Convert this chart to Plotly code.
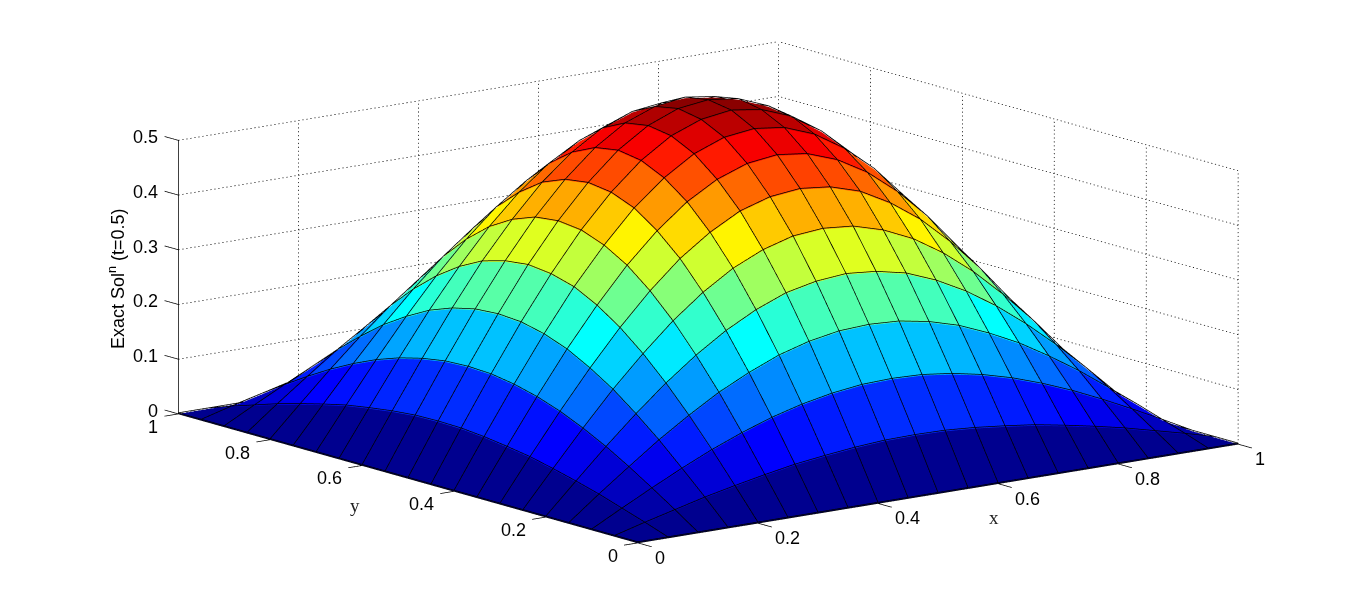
import plotly.graph_objects as go

x_vals = [0.00,0.05,0.10,0.15,0.20,0.25,0.30,0.35,0.40,0.45,0.50,0.55,0.60,0.65,0.70,0.75,0.80,0.85,0.90,0.95,1.00]
y_vals = [0.00,0.05,0.10,0.15,0.20,0.25,0.30,0.35,0.40,0.45,0.50,0.55,0.60,0.65,0.70,0.75,0.80,0.85,0.90,0.95,1.00]
z_rows = [
[0,0,0,0,0,0,0,0,0,0,0,0,0,0,0,0,0,0,0,0,0],
[0,.015,.029,.043,.055,.066,.076,.083,.089,.093,.094,.093,.089,.083,.076,.066,.055,.043,.029,.015,0],
[0,.029,.057,.084,.109,.131,.150,.165,.176,.183,.185,.183,.176,.165,.150,.131,.109,.084,.057,.029,0],
[0,.043,.084,.124,.160,.193,.220,.243,.259,.269,.272,.269,.259,.243,.220,.193,.160,.124,.084,.043,0],
[0,.055,.109,.160,.207,.249,.285,.314,.336,.348,.353,.348,.336,.314,.285,.249,.207,.160,.109,.055,0],
[0,.066,.131,.193,.249,.300,.343,.378,.403,.419,.424,.419,.403,.378,.343,.300,.249,.193,.131,.066,0],
[0,.076,.150,.220,.285,.343,.393,.432,.462,.479,.485,.479,.462,.432,.393,.343,.285,.220,.150,.076,0],
[0,.083,.165,.243,.314,.378,.432,.476,.508,.528,.535,.528,.508,.476,.432,.378,.314,.243,.165,.083,0],
[0,.089,.176,.259,.336,.403,.462,.508,.543,.564,.571,.564,.543,.508,.462,.403,.336,.259,.176,.089,0],
[0,.093,.183,.269,.348,.419,.479,.528,.564,.585,.593,.585,.564,.528,.479,.419,.348,.269,.183,.093,0],
[0,.094,.185,.272,.353,.424,.485,.535,.571,.593,.600,.593,.571,.535,.485,.424,.353,.272,.185,.094,0],
[0,.093,.183,.269,.348,.419,.479,.528,.564,.585,.593,.585,.564,.528,.479,.419,.348,.269,.183,.093,0],
[0,.089,.176,.259,.336,.403,.462,.508,.543,.564,.571,.564,.543,.508,.462,.403,.336,.259,.176,.089,0],
[0,.083,.165,.243,.314,.378,.432,.476,.508,.528,.535,.528,.508,.476,.432,.378,.314,.243,.165,.083,0],
[0,.076,.150,.220,.285,.343,.393,.432,.462,.479,.485,.479,.462,.432,.393,.343,.285,.220,.150,.076,0],
[0,.066,.131,.193,.249,.300,.343,.378,.403,.419,.424,.419,.403,.378,.343,.300,.249,.193,.131,.066,0],
[0,.055,.109,.160,.207,.249,.285,.314,.336,.348,.353,.348,.336,.314,.285,.249,.207,.160,.109,.055,0],
[0,.043,.084,.124,.160,.193,.220,.243,.259,.269,.272,.269,.259,.243,.220,.193,.160,.124,.084,.043,0],
[0,.029,.057,.084,.109,.131,.150,.165,.176,.183,.185,.183,.176,.165,.150,.131,.109,.084,.057,.029,0],
[0,.015,.029,.043,.055,.066,.076,.083,.089,.093,.094,.093,.089,.083,.076,.066,.055,.043,.029,.015,0],
[0,0,0,0,0,0,0,0,0,0,0,0,0,0,0,0,0,0,0,0,0],
]
x_ticks = [0, 0.2, 0.4, 0.6, 0.8, 1]
y_ticks = [0, 0.2, 0.4, 0.6, 0.8, 1]
z_ticks = [0, 0.1, 0.2, 0.3, 0.4, 0.5]
x_tick_labels = ["0", "0.2", "0.4", "0.6", "0.8", "1"]
y_tick_labels = ["0", "0.2", "0.4", "0.6", "0.8", "1"]
z_tick_labels = ["0", "0.1", "0.2", "0.3", "0.4", "0.5"]

JET = [[0, "#00008f"], [0.11, "#0000ff"], [0.365, "#00ffff"], [0.62, "#ffff00"], [0.873, "#ff0000"], [1, "#800000"]]
TICK_FONT = dict(family="Liberation Sans, Arial, sans-serif", size=18, color="#000000")
LABEL_FONT = dict(family="Liberation Serif, Times New Roman, serif", size=19, color="#222222")
LIFT = 0.002
PAGE_MARGIN = 8  # the browser's default body margin offsets the whole figure
nx, ny = len(x_vals), len(y_vals)

vx, vy, vz = [], [], []
for r in range(ny):
    for c in range(nx):
        vx.append(x_vals[c]); vy.append(y_vals[r]); vz.append(z_rows[r][c])
fi, fj, fk, cell = [], [], [], []
for r in range(ny - 1):
    for c in range(nx - 1):
        a = r * nx + c
        b, d, e = a + 1, a + nx, a + nx + 1
        fi += [a, a]; fj += [b, e]; fk += [e, d]
        cell += [z_rows[r][c]] * 2

fig = go.Figure()
fig.add_trace(go.Mesh3d(x=vx, y=vy, z=vz, i=fi, j=fj, k=fk, intensity=cell, intensitymode="cell",
                        colorscale=JET, cmin=0, cmax=0.600, showscale=False, flatshading=True,
                        lighting=dict(ambient=1, diffuse=0, specular=0, roughness=1, fresnel=0),
                        hoverinfo="skip"))

lx, ly, lz = [], [], []
for r in range(ny):
    lx += x_vals + [None]; ly += [y_vals[r]] * nx + [None]; lz += [v + LIFT for v in z_rows[r]] + [None]
for c in range(nx):
    lx += [x_vals[c]] * ny + [None]; ly += y_vals + [None]; lz += [z_rows[r][c] + LIFT for r in range(ny)] + [None]
fig.add_trace(go.Scatter3d(x=lx, y=ly, z=lz, mode="lines", line=dict(color="#000000", width=1.5), hoverinfo="skip"))

z_top = z_ticks[-1]
gx, gy, gz = [], [], []
def dotted(p0, p1, n):
    """Append a dotted run from p0 to p1 as n short dashes, since plotly's 3-D dash pattern is too coarse."""
    for m in range(n):
        for t in (m / n, (m + 0.3) / n):
            gx.append(p0[0] + (p1[0] - p0[0]) * t)
            gy.append(p0[1] + (p1[1] - p0[1]) * t)
            gz.append(p0[2] + (p1[2] - p0[2]) * t)
        gx.append(None); gy.append(None); gz.append(None)
for t in x_ticks[1:]:
    dotted((t, 1, 0), (t, 1, z_top), 70)
for t in y_ticks[:-1]:
    dotted((1, t, 0), (1, t, z_top), 70)
for t in z_ticks:
    dotted((0, 1, t), (1, 1, t), 150)
    dotted((1, 0, t), (1, 1, t), 125)
fig.add_trace(go.Scatter3d(x=gx, y=gy, z=gz, mode="lines", line=dict(color="#000000", width=1.5), hoverinfo="skip"))

ax, ay, az = [0, 1, None, 0, 0, None, 0, 0], [0, 0, None, 0, 1, None, 1, 1], [0, 0, None, 0, 0, None, 0, z_top]
for t in x_ticks:
    ax += [None, t, t]; ay += [None, 0, -0.03]; az += [None, 0, 0]
for t in y_ticks:
    ax += [None, 0, -0.023]; ay += [None, t, t]; az += [None, 0, 0]
for t in z_ticks:
    ax += [None, 0, 0]; ay += [None, 1, 1.03]; az += [None, t, t]
fig.add_trace(go.Scatter3d(x=ax, y=ay, z=az, mode="lines", line=dict(color="#000000", width=1.5), hoverinfo="skip"))

annos = []
for t, s in zip(x_ticks, x_tick_labels):
    annos.append(dict(x=t, y=0, z=0, text=s, showarrow=False, xanchor="left", yanchor="middle", xshift=15, yshift=-15, font=TICK_FONT))
for t, s in zip(y_ticks, y_tick_labels):
    annos.append(dict(x=0, y=t, z=0, text=s, showarrow=False, xanchor="right", yanchor="middle", xshift=-18, yshift=-13, font=TICK_FONT))
for t, s in zip(z_ticks, z_tick_labels):
    annos.append(dict(x=0, y=1, z=t, text=s, showarrow=False, xanchor="right", yanchor="middle", xshift=-18, yshift=3, font=TICK_FONT))

def px(v):
    return (v - PAGE_MARGIN) / 1366
def py(v):
    return 1 - (v - PAGE_MARGIN) / 607

hidden = dict(visible=False, showspikes=False)
EYE = 5
ZOOM = 3.238
fig.update_layout(
    width=1366, height=607, margin=dict(l=0, r=0, t=0, b=0), paper_bgcolor="white", showlegend=False,
    scene=dict(
        domain=dict(x=[0, 1], y=[0, 1]), bgcolor="white",
        xaxis=dict(range=[-0.1787, 1.1213], **hidden),
        yaxis=dict(range=[-0.15, 1.15], **hidden),
        zaxis=dict(range=[-0.28, 0.72], **hidden),
        aspectmode="manual", aspectratio=dict(x=ZOOM, y=ZOOM, z=0.57*ZOOM),
        camera=dict(eye=dict(x=-0.594*EYE, y=-0.776*EYE, z=0.215*EYE), up=dict(x=0, y=0, z=1), center=dict(x=0, y=0, z=0),
                    projection=dict(type="orthographic")),
        annotations=annos,
    ),
    annotations=[
        dict(x=px(116), y=py(279), xref="paper", yref="paper", xanchor="center", yanchor="middle",
             text="Exact Sol<sup>n</sup> (t=0.5)", textangle=-90, showarrow=False,
             font=dict(family="Liberation Sans, Arial, sans-serif", size=18, color="#000000")),
        dict(x=px(994), y=py(517), xref="paper", yref="paper", xanchor="center", yanchor="middle", text="x", showarrow=False, font=LABEL_FONT),
        dict(x=px(355), y=py(505), xref="paper", yref="paper", xanchor="center", yanchor="middle", text="y", showarrow=False, font=LABEL_FONT),
    ],
)
fig.write_html("out.html", config=dict(displayModeBar=False))
